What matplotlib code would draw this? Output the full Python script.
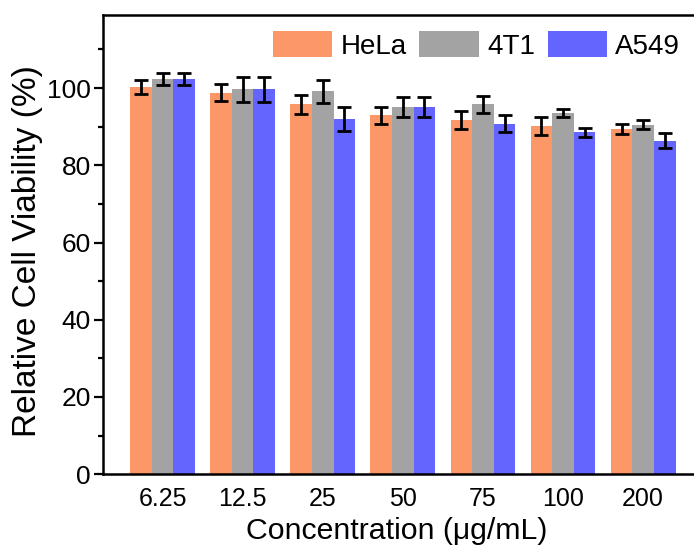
import matplotlib
matplotlib.use("Agg")
import matplotlib.pyplot as plt
import numpy as np
from matplotlib.ticker import MultipleLocator

plt.rcParams["font.family"] = ["Liberation Sans", "DejaVu Sans"]

concentrations = ["6.25", "12.5", "25", "50", "75", "100", "200"]
cell_lines = ["HeLa", "4T1", "A549"]
hela = [100.2, 98.8, 95.8, 92.9, 91.7, 90.2, 89.4]
hela_err = [1.8, 2.2, 2.5, 2.3, 2.3, 2.4, 1.35]
t41 = [102.4, 99.7, 99.2, 95.1, 95.8, 93.5, 90.5]
t41_err = [1.6, 3.2, 3.0, 2.6, 2.2, 1.1, 1.2]
a549 = [102.4, 99.7, 92.1, 95.1, 90.8, 88.5, 86.4]
a549_err = [1.6, 3.2, 3.1, 2.6, 2.2, 1.2, 1.9]

colors = ["#FC9868", "#A3A3A3", "#6464FF"]

fig = plt.figure(figsize=(6.94, 5.45), dpi=100)
ax = fig.add_axes([0.148, 0.130, 1.013 - 0.148, 0.843])

x = np.arange(len(concentrations))
w = 0.27
series = [(hela, hela_err), (t41, t41_err), (a549, a549_err)]
for i, (vals, errs) in enumerate(series):
    ax.bar(x + (i - 1) * w, vals, w, color=colors[i], label=cell_lines[i],
           yerr=errs, capsize=5,
           error_kw=dict(ecolor="black", elinewidth=2, capthick=2))

ax.set_xlim(-0.7475, 6.7475)
ax.set_ylim(0, 119)
ax.set_xticks(x)
ax.set_xticklabels(concentrations, fontsize=18)
ax.yaxis.set_major_locator(MultipleLocator(20))
ax.yaxis.set_minor_locator(MultipleLocator(10))
ax.tick_params(axis="y", which="major", labelsize=19, length=6.5, width=1.6, pad=2)
ax.tick_params(axis="y", which="minor", length=3.5, width=1.6)
ax.tick_params(axis="x", length=0, pad=9)
for s in ax.spines.values():
    s.set_linewidth(1.8)

ax.set_xlabel("Concentration (μg/mL)", fontsize=21.8)
ax.set_ylabel("Relative Cell Viability (%)", fontsize=24)
ax.xaxis.set_label_coords(0.49, -0.094)
ax.yaxis.set_label_coords(-0.099, 0.486)

ax.legend(loc="upper right", bbox_to_anchor=(0.99, 1.0), ncol=3, frameon=False,
          fontsize=20, handlelength=2.14, handleheight=1.04,
          handletextpad=0.3, columnspacing=0.45, borderaxespad=0.2)

fig.savefig("out.png", dpi=100)
